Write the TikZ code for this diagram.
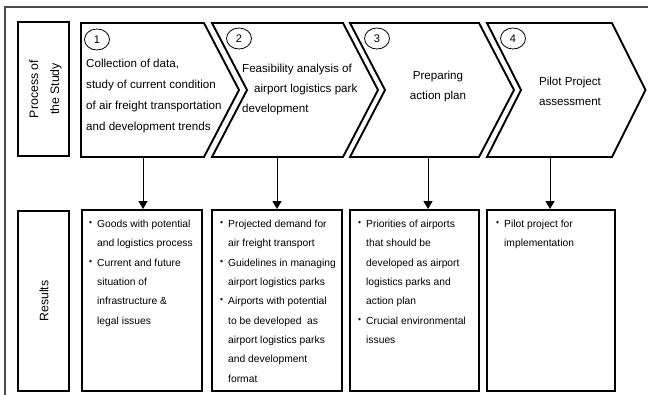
\documentclass[tikz,border=0pt]{standalone}
\usepackage{fontspec}
\setmainfont{Liberation Sans}
\usetikzlibrary{arrows.meta,shapes.geometric}
\newcommand{\bul}{\makebox[8pt][l]{\raisebox{1.9pt}{\fontsize{8.5}{8}\selectfont •}}}
\newcommand{\ind}{\hspace*{8pt}}
\begin{document}
\begin{tikzpicture}[x=1pt,y=-1pt,
  chev/.style={draw=black,line width=1.9pt,line join=miter},
  resbox/.style={draw=black,line width=1.9pt,inner sep=0pt},
  labbox/.style={draw=black,line width=1.9pt,inner sep=0pt},
  labtext/.style={inner sep=0pt,rotate=90,align=center,font=\fontsize{12.3}{19}\selectfont},
  numcirc/.style={ellipse,draw=black,line width=0.8pt,minimum width=25pt,minimum height=21pt,
    inner sep=0pt,font=\fontsize{11}{13}\selectfont},
  chtext/.style={inner sep=0pt,font=\fontsize{11.6}{21}\selectfont},
  restext/.style={inner sep=0pt,anchor=north west,align=left,font=\fontsize{10.3}{19.3}\selectfont},
  conn/.style={draw=black,line width=1pt,-{Triangle[width=9pt,length=8pt]}},
  frame/.style={draw=black!70,line width=1.1pt}]
\useasboundingbox (0,0) rectangle (648,395);
% outer frame
\coordinate (fbl) at (5,395);
\coordinate (ftl) at (5,7);
\coordinate (ftr) at (648,7);
\draw[frame] (fbl) -- (ftl) -- (ftr);
% row labels
\node[labbox,minimum width=51pt,minimum height=134pt] (proc) at (43.5,89) {};
\node[labtext] (proct) at (45.5,89) {Process of\\[2pt]the Study};
\node[labbox,minimum width=51pt,minimum height=180pt] (res) at (43.5,301) {};
\node[labtext] (rest) at (44,301) {Results};
% chevrons
\draw[chev] (81,23) -- (204,23) -- (239,90) -- (204,157) -- (81,157) -- cycle;
\draw[chev] (212,23) -- (343,23) -- (378,90) -- (343,157) -- (212,157) -- (247,90) -- cycle;
\draw[chev] (350,23) -- (479,23) -- (514,90) -- (479,157) -- (350,157) -- (385,90) -- cycle;
\draw[chev] (487,23) -- (612,23) -- (645.5,90) -- (612,157) -- (487,157) -- (521,90) -- cycle;
\coordinate (c1) at (143,157);
\coordinate (c2) at (277,157);
\coordinate (c3) at (428,157);
\coordinate (c4) at (550,157);
% step numbers
\node[numcirc] (n1) at (97,39.5) {1};
\node[numcirc] (n2) at (239,38.5) {2};
\node[numcirc] (n3) at (377,38.5) {3};
\node[numcirc] (n4) at (513,38.5) {4};
% chevron texts
\node[chtext,anchor=north west,align=left] (t1) at (86,58.5)
  {Collection of data,\\study of current condition\\of air freight transportation\\and development trends};
\node[chtext,anchor=north west,align=left,font=\fontsize{11.6}{20}\selectfont] (t2) at (242,64)
  {Feasibility analysis of\\\hspace*{12pt}airport logistics park\\development};
\node[chtext,anchor=north,align=center,font=\fontsize{11.6}{20}\selectfont] (t3) at (438,70.5)
  {Preparing\\action plan};
\node[chtext,anchor=north,align=center,font=\fontsize{11.6}{20}\selectfont] (t4) at (570,76.5)
  {Pilot Project\\assessment};
% result boxes
\node[resbox,minimum width=120pt,minimum height=181pt] (r1) at (142,300.5) {};
\node[resbox,minimum width=130pt,minimum height=181pt] (r2) at (277,300.5) {};
\node[resbox,minimum width=129pt,minimum height=181pt] (r3) at (414.5,300.5) {};
\node[resbox,minimum width=128pt,minimum height=181pt] (r4) at (551,300.5) {};
% connectors
\draw[conn] (c1) -- (c1 |- r1.north);
\draw[conn] (c2) -- (c2 |- r2.north);
\draw[conn] (c3) -- (c3 |- r3.north);
\draw[conn] (c4) -- (c4 |- r4.north);
% result texts
\node[restext] (x1) at (89,220)
  {\bul Goods with potential\\\ind and logistics process\\\bul Current and future\\\ind situation of\\\ind infrastructure \&\\\ind legal issues};
\node[restext] (x2) at (220,220)
  {\bul Projected demand for\\\ind air freight transport\\\bul Guidelines in managing\\\ind airport logistics parks\\\bul Airports with potential\\\ind to be developed\ \ as\\\ind airport logistics parks\\\ind and development\\\ind format};
\node[restext] (x3) at (358,220)
  {\bul Priorities of airports\\\ind that should be\\\ind developed as airport\\\ind logistics parks and\\\ind action plan\\\bul Crucial environmental\\\ind issues};
\node[restext] (x4) at (496,220)
  {\bul Pilot project for\\\ind implementation};
\end{tikzpicture}
\end{document}
